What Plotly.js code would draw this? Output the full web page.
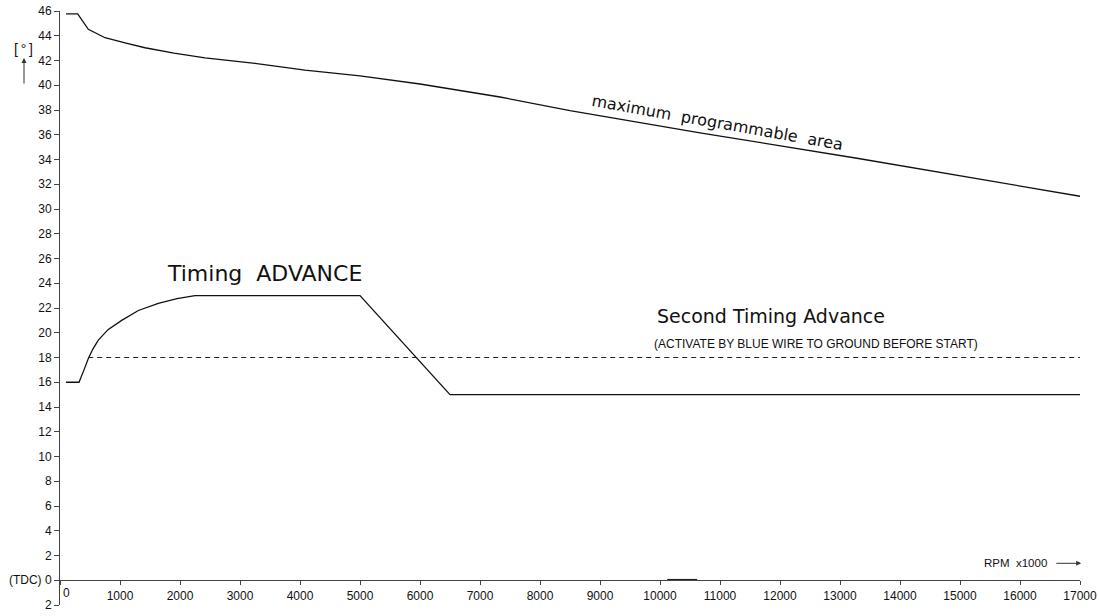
<!DOCTYPE html>
<html>
<head>
<meta charset="utf-8">
<script src="https://cdn.plot.ly/plotly-3.0.1.min.js"></script>
<style>html,body{margin:0;padding:0;background:#fff;}#chart{width:1099px;height:616px;}</style>
</head>
<body>
<div id="chart"></div>
<script>
// Maximum programmable area curve
const maxRpm = [100, 295, 472, 750, 1100, 1417, 1900, 2417, 3250, 4083, 5000, 6000, 7333, 8500, 10667, 13283, 17000];
const maxDeg = [45.76, 45.76, 44.52, 43.84, 43.4, 43.03, 42.6, 42.22, 41.77, 41.23, 40.75, 40.1, 39.05, 37.95, 36.16, 34.1, 31.03];

// Timing advance curve
const advRpm = [100, 317, 400, 472, 550, 639, 800, 1028, 1306, 1639, 1950, 2250, 5000, 6500, 17000];
const advDeg = [16, 16, 17.0, 17.92, 18.7, 19.4, 20.25, 21.0, 21.8, 22.37, 22.75, 23.0, 23.0, 15.0, 15.0];

// Second timing advance (dashed)
const secRpm = [470, 17000];
const secDeg = [18, 18];

// small mark on the axis
const markRpm = [10120, 10620];
const markDeg = [0.06, 0.06];

// ticks
const xTicks = [0,1000,2000,3000,4000,5000,6000,7000,8000,9000,10000,11000,12000,13000,14000,15000,16000,17000];
const xTickText = ['', '1000','2000','3000','4000','5000','6000','7000','8000','9000','10000','11000','12000','13000','14000','15000','16000','17000'];
const yTicks = [-2,0,2,4,6,8,10,12,14,16,18,20,22,24,26,28,30,32,34,36,38,40,42,44,46];
const yTickText = ['2','(TDC) 0','2','4','6','8','10','12','14','16','18','20','22','24','26','28','30','32','34','36','38','40','42','44','46'];

const lineStyle = {color: '#111', width: 1.3};

const traces = [
  {x: maxRpm, y: maxDeg, mode: 'lines', line: lineStyle, hoverinfo: 'skip'},
  {x: advRpm, y: advDeg, mode: 'lines', line: lineStyle, hoverinfo: 'skip'},
  {x: secRpm, y: secDeg, mode: 'lines', line: {color: '#222', width: 1.1, dash: '5px,4px'}, hoverinfo: 'skip'},
  {x: markRpm, y: markDeg, mode: 'lines', line: {color: '#222', width: 1.2}, hoverinfo: 'skip'}
];

const tickFont = {family: 'Liberation Sans, Arial, sans-serif', size: 12, color: '#111'};
const capFont = {family: 'DejaVu Sans, sans-serif', color: '#111'};

const layout = {
  width: 1099, height: 616,
  margin: {l: 60, r: 19, t: 11, b: 11},
  paper_bgcolor: '#fff', plot_bgcolor: '#fff',
  showlegend: false,
  xaxis: {
    range: [0, 17000], tickvals: xTicks, ticktext: xTickText,
    showgrid: false, zeroline: false, showline: true, linecolor: '#444', linewidth: 1,
    ticks: 'outside', ticklen: 4, tickcolor: '#444', tickfont: tickFont,
    anchor: 'free', position: 2/48, fixedrange: true
  },
  yaxis: {
    range: [-2, 46], tickvals: yTicks, ticktext: yTickText,
    showgrid: false, zeroline: false, showline: true, linecolor: '#444', linewidth: 1,
    ticks: 'outside', ticklen: 5, tickcolor: '#444', tickfont: tickFont, fixedrange: true
  },
  annotations: [
    {x: 100, y: 0, xref: 'x', yref: 'y', text: '0', showarrow: false, yanchor: 'top', yshift: -4, font: tickFont},
    {x: 3400, y: 24.8, xref: 'x', yref: 'y', text: 'Timing\u00a0 ADVANCE', showarrow: false, font: Object.assign({size: 22}, capFont)},
    {x: 11850, y: 21.37, xref: 'x', yref: 'y', text: 'Second Timing Advance', showarrow: false, font: Object.assign({size: 19}, capFont)},
    {x: 12600, y: 19.1, xref: 'x', yref: 'y', text: '(ACTIVATE BY BLUE WIRE TO GROUND BEFORE START)', showarrow: false, font: {family: 'Liberation Sans, Arial, sans-serif', size: 12, color: '#111'}},
    {x: 10950, y: 37.0, xref: 'x', yref: 'y', text: 'maximum\u00a0 programmable\u00a0 area', showarrow: false, textangle: 10, font: Object.assign({size: 16}, capFont)},
    {x: 15917, y: 1.4, xref: 'x', yref: 'y', text: 'RPM\u00a0 x1000', showarrow: false, font: {family: 'Liberation Sans, Arial, sans-serif', size: 11.5, color: '#111'}},
    {x: 17020, y: 1.37, xref: 'x', yref: 'y', ax: 16580, ay: 1.37, axref: 'x', ayref: 'y', text: '', showarrow: true, arrowhead: 2, arrowsize: 1, arrowwidth: 1, arrowcolor: '#333'},
    {x: (23.5-60)/1020, y: (605-49)/594, xref: 'paper', yref: 'paper', xanchor: 'center', yanchor: 'middle', text: '[\u2009°\u2009]', showarrow: false, font: {family: 'Liberation Sans, Arial, sans-serif', size: 14, color: '#111'}},
    {x: (24-60)/1020, y: (605-58)/594, xref: 'paper', yref: 'paper', ax: 0, ay: 27, text: '', showarrow: true, arrowhead: 2, arrowsize: 1, arrowwidth: 1, arrowcolor: '#333'}
  ]
};

Plotly.newPlot('chart', traces, layout, {displayModeBar: false, staticPlot: true});
</script>
</body>
</html>
